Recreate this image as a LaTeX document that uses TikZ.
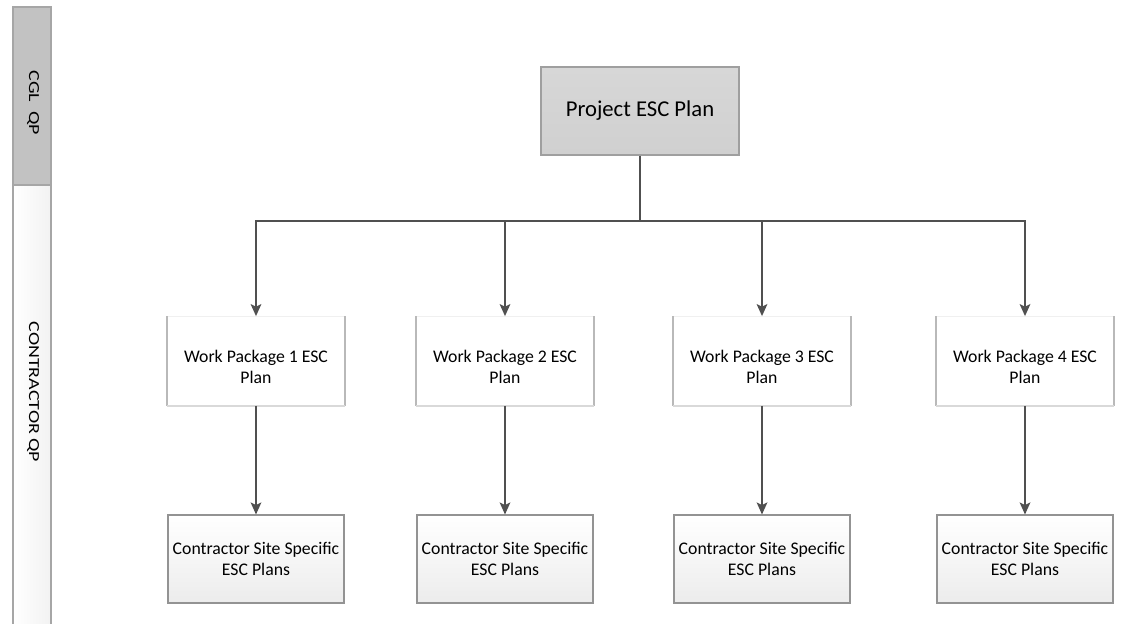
\documentclass[tikz,border=0pt]{standalone}
\usepackage{fontspec}
\setmainfont{Carlito}
\usepackage{tikz}
\usetikzlibrary{positioning,arrows.meta}
\definecolor{linegray}{HTML}{505050}
\definecolor{bandgray}{HTML}{C2C2C2}
\definecolor{bandedge}{HTML}{A6A6A6}
\definecolor{boxgray}{HTML}{D0D0D0}
\tikzset{
    planbox/.style={
        rectangle, draw=gray!75, line width=0.8pt,
        top color=boxgray!85, bottom color=boxgray,
        minimum width=148.5pt, minimum height=66pt,
        font=\fontsize{17}{20}\selectfont
    },
    wpbox/.style={
        rectangle, fill=white, draw=gray!12, line width=0.6pt,
        minimum width=132.75pt, minimum height=66.75pt,
        align=center, font=\fontsize{13.3}{16}\selectfont
    },
    sitebox/.style={
        rectangle, draw=gray!85, line width=0.8pt,
        top color=white, bottom color=gray!15,
        minimum width=132pt, minimum height=66pt,
        align=center, font=\fontsize{13.3}{16}\selectfont
    },
    bandlabel/.style={
        rotate=-90, inner sep=0pt,
        font=\fontsize{11.5}{13}\selectfont
    },
    link/.style={
        line width=1.4pt, draw=linegray,
        -{Stealth[length=9pt, width=8pt, inset=2pt]}
    },
    trunk/.style={line width=1.4pt, draw=linegray}
}

\begin{document}
\begin{tikzpicture}[x=0.75pt, y=-0.75pt]
    \useasboundingbox (0,0) rectangle (1121,624);
    % Side band
    \filldraw[fill=bandgray, draw=bandedge, line width=0.8pt] (13,7) rectangle (51,185);
    \shade[left color=white, right color=gray!10] (13,185) rectangle (51,624);
    \draw[bandedge, line width=0.8pt] (13,624) -- (13,185) -- (51,185) -- (51,624);
    \node[bandlabel] (cgl) at (33,103) {\scalebox{1.3}[1]{CGL\ \ QP}};
    \node[bandlabel] (contractor) at (33,392) {\scalebox{1.3}[1]{CONTRACTOR QP}};
    % Nodes
    \node[planbox] (plan) at (640,111) {Project ESC Plan};
    \coordinate (hub) at (640,221);
    \foreach \i/\x in {1/256, 2/505, 3/762, 4/1025} {
        \node[wpbox] (wp\i) at (\x,361) {};
        \node[align=center, font=\fontsize{13.3}{16}\selectfont] (wptext\i) at (\x,367) {Work Package \i\ ESC\\Plan};
        \draw[gray!55, line width=1.2pt] (wp\i.north west) -- (wp\i.south west);
        \draw[gray!55, line width=1.2pt] (wp\i.north east) -- (wp\i.south east);
        \draw[gray!30, line width=1.2pt] (wp\i.south west) -- (wp\i.south east);
        \node[sitebox] (site\i) at (\x,559) {Contractor Site Specific\\ESC Plans};
    }
    % Connectors
    \draw[trunk] (plan) -- (hub);
    \foreach \i in {1,...,4} {
        \draw[link] (hub) -| (wp\i.north);
        \draw[link] (wp\i) -- (site\i);
    }
\end{tikzpicture}
\end{document}
